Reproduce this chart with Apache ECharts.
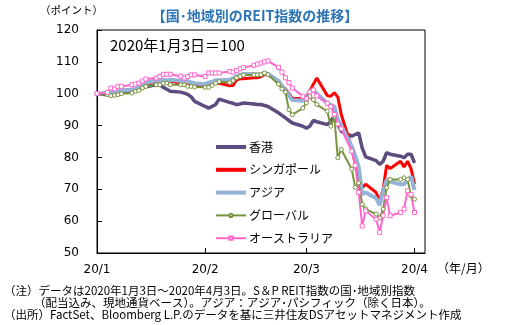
<!DOCTYPE html>
<html><head><meta charset="utf-8">
<script src="https://cdn.jsdelivr.net/npm/echarts@6/dist/echarts.min.js"></script>
<style>html,body{margin:0;padding:0;background:#fff}#c{width:510px;height:325px}</style>
</head><body><div id="c"></div>
<script>
// ---- data ----
const dates = [
 '2020-01-03','2020-01-06','2020-01-07','2020-01-08','2020-01-09','2020-01-10',
 '2020-01-13','2020-01-14','2020-01-15','2020-01-16','2020-01-17',
 '2020-01-20','2020-01-21','2020-01-22','2020-01-23','2020-01-24',
 '2020-01-27','2020-01-28','2020-01-29','2020-01-30','2020-01-31',
 '2020-02-03','2020-02-04','2020-02-05','2020-02-06','2020-02-07',
 '2020-02-10','2020-02-11','2020-02-12','2020-02-13','2020-02-14',
 '2020-02-17','2020-02-18','2020-02-19','2020-02-20','2020-02-21',
 '2020-02-24','2020-02-25','2020-02-26','2020-02-27','2020-02-28',
 '2020-03-02','2020-03-03','2020-03-04','2020-03-05','2020-03-06',
 '2020-03-09','2020-03-10','2020-03-11','2020-03-12','2020-03-13',
 '2020-03-16','2020-03-17','2020-03-18','2020-03-19','2020-03-20',
 '2020-03-23','2020-03-24','2020-03-25','2020-03-26','2020-03-27',
 '2020-03-30','2020-03-31','2020-04-01','2020-04-02','2020-04-03'
];
const hongKong = [
 100,99.7,99.9,99.6,100.2,100.5, 100.9,101.2,101.4,101.8,102.2, 102.8,102.7,102.0,101.4,100.8, 100.5,100.2,99.8,99.0,97.6,
 96.0,95.5,96.0,96.6,98.3, 97.3,97.0,96.6,96.8,97.1, 96.8,96.6,96.6,96.3,96.0, 94.0,93.2,92.4,91.6,90.8,
 89.8,89.2,89.8,91.6,91.2, 90.3,91.4,92.9,90.4,88.2, 86.7,87.2,87.7,83.0,80.2, 79.0,77.8,78.8,81.5,81.0, 80.4,79.9,81.0,81.0,78.3
];
const singapore = [
 100,100.2,100.4,100.2,100.6,101.0, 101.2,101.5,102.0,102.6,103.3, 104.0,104.0,104.2,104.0,104.0, 103.3,102.6,102.8,102.5,102.3,
 102.3,102.8,103.3,103.3,103.3, 102.5,102.6,104.4,104.7,104.7, 105.0,105.0,105.4,106.0,106.0, 104.0,102.5,101.5,100.0,98.5,
 98.5,99.2,100.8,103.0,104.9, 99.4,99.2,100.3,99.0,93.5, 83.0,78.0,74.0,70.5,71.6, 69.0,66.3,70.0,77.5,76.5, 78.8,77.0,78.8,76.5,71.6
];
const asia = [
 100,100.2,100.5,100.3,100.8,101.0, 101.3,101.5,102.0,102.8,103.5, 104.2,104.0,104.4,104.2,104.4, 104.0,103.8,104.0,103.5,103.3,
 103.0,103.5,103.8,104.2,104.2, 104.4,104.8,105.5,105.9,106.2, 106.2,106.0,106.2,106.5,106.2, 104.0,102.5,101.0,99.5,98.0,
 97.8,98.5,100.7,101.2,100.0, 97.0,96.5,96.0,92.0,90.0, 83.5,80.5,77.0,68.5,69.0, 67.2,65.0,69.5,73.0,72.4, 71.6,71.6,72.8,74.0,69.8
];
const globalReit = [
 100,99.7,99.4,99.5,99.7,100.0, 100.2,100.7,101.0,101.8,102.3, 102.8,102.8,103.3,103.3,102.8, 102.8,102.8,102.3,102.3,102.1,
 102.0,102.0,102.6,103.3,103.8, 103.5,104.1,105.0,105.4,105.9, 105.9,105.9,106.0,106.5,106.0, 103.0,101.5,100.5,95.0,93.4,
 95.5,97.1,99.2,98.1,96.6, 94.5,89.8,92.9,79.9,82.5, 76.3,70.6,72.0,65.3,63.8, 62.2,61.0,63.8,70.5,73.1, 73.1,73.6,73.1,67.9,66.9
];
const australia = [
 100,100.4,101.8,101.5,102.3,102.3, 102.8,103.0,103.3,104.0,104.6, 104.9,105.4,106.1,106.1,106.1, 105.5,104.9,105.4,105.9,105.9,
 105.4,106.5,106.5,106.5,106.5, 107.0,106.8,107.3,107.8,108.2, 108.9,109.3,109.6,110.0,110.3, 108.3,106.8,105.0,103.5,101.8,
 99.2,98.5,100.5,101.2,99.3, 97.0,96.0,93.5,90.5,89.0, 82.0,77.5,69.0,58.5,63.2, 60.6,56.5,61.7,67.4,61.7, 62.7,63.8,69.5,68.4,62.7
];
const seriesNames = ['香港','シンガポール','アジア','グローバル','オーストラリア'];
const xTickDates = ['2020-01-03','2020-02-03','2020-03-03','2020-04-03'];
const xTickLabels = ['20/1','20/2','20/3','20/4'];
const yMin = 50, yMax = 120, yStep = 10;
const xMaxDay = 94;

// ---- helpers ----
const DAY = 86400000, t0 = Date.UTC(2020,0,3);
function dayIndex(s){const p=s.split('-');return Math.round((Date.UTC(+p[0],+p[1]-1,+p[2])-t0)/DAY);}
const xs = dates.map(dayIndex);
const tickX = xTickDates.map(dayIndex);
const pairs = vals => vals.map((v,i)=>[xs[i],v]);

const JP = '"Noto Sans CJK JP","Noto Sans",sans-serif';
const NUM = '"DejaVu Sans",sans-serif';

const chart = echarts.init(document.getElementById('c'), null, {renderer:'canvas'});
chart.setOption({
  animation:false,
  backgroundColor:'#fff',
  grid:{left:97,right:85,top:30,bottom:72,show:true,borderColor:'#000',borderWidth:1,backgroundColor:'transparent'},
  xAxis:{
    type:'value',min:0,max:xMaxDay,
    axisLine:{show:true,lineStyle:{color:'#000',width:1}},
    axisTick:{show:true,inside:true,length:5,customValues:tickX,lineStyle:{color:'#000'}},
    axisLabel:{customValues:tickX,formatter:v=>xTickLabels[tickX.indexOf(v)],fontSize:12,fontFamily:NUM,color:'#000',margin:11},
    splitLine:{show:false}
  },
  yAxis:{
    type:'value',min:yMin,max:yMax,interval:yStep,
    axisLine:{show:true,lineStyle:{color:'#000',width:1}},
    axisTick:{show:true,inside:true,length:5,lineStyle:{color:'#000'}},
    axisLabel:{fontSize:12,fontFamily:NUM,color:'#000',margin:18},
    splitLine:{show:false}
  },
  legend:{
    orient:'vertical',left:210,top:135,itemWidth:30,itemHeight:4,itemGap:8.8,
    data:[
      {name:seriesNames[0],icon:'rect'},
      {name:seriesNames[1],icon:'rect'},
      {name:seriesNames[2],icon:'rect'},
      {name:seriesNames[3]},
      {name:seriesNames[4]}
    ],
    textStyle:{fontSize:12,fontFamily:JP,color:'#000',lineHeight:14,padding:[0,0,0,-2]}
  },
  series:[
    {name:seriesNames[0],type:'line',data:pairs(hongKong),symbol:'none',
     lineStyle:{color:'#5E4B80',width:3.5},itemStyle:{color:'#5E4B80'}},
    {name:seriesNames[1],type:'line',data:pairs(singapore),symbol:'none',
     lineStyle:{color:'#FF0000',width:3},itemStyle:{color:'#FF0000'}},
    {name:seriesNames[2],type:'line',data:pairs(asia),symbol:'none',
     lineStyle:{color:'#95B3D7',width:4},itemStyle:{color:'#95B3D7'}},
    {name:seriesNames[3],type:'line',data:pairs(globalReit),symbol:'circle',symbolSize:4,showAllSymbol:true,
     lineStyle:{color:'#77933C',width:2},itemStyle:{color:'#fff',borderColor:'#77933C',borderWidth:1}},
    {name:seriesNames[4],type:'line',data:pairs(australia),symbol:'rect',symbolSize:4,showAllSymbol:true,
     lineStyle:{color:'#FF66CC',width:2},itemStyle:{color:'#fff',borderColor:'#FF66CC',borderWidth:1}}
  ],
  graphic:[
    {type:'text',left:'center',top:9,style:{text:'【国･地域別のREIT指数の推移】',font:'bold 14px '+JP,fill:'#2E75B6'}},
    {type:'text',left:40,top:5,style:{text:'（ポイント）',font:'10.5px '+JP,fill:'#000'}},
    {type:'text',left:110,top:38,style:{text:'2020年1月3日＝100',font:'15px '+JP,fill:'#000'}},
    {type:'text',left:437,top:262,style:{text:'（年/月）',font:'12px '+JP,fill:'#000'}},
    {type:'text',left:4,top:285,style:{text:'（注）データは2020年1月3日～2020年4月3日。S＆P REIT指数の国･地域別指数',font:'11.5px '+JP,fill:'#000'}},
    {type:'text',left:34,top:297,style:{text:'（配当込み、現地通貨ベース）。アジア：アジア･パシフィック（除く日本）。',font:'11.5px '+JP,fill:'#000'}},
    {type:'text',left:4,top:309,style:{text:'（出所）FactSet、Bloomberg L.P.のデータを基に三井住友DSアセットマネジメント作成',font:'11.5px '+JP,fill:'#000'}}
  ]
});
</script></body></html>
